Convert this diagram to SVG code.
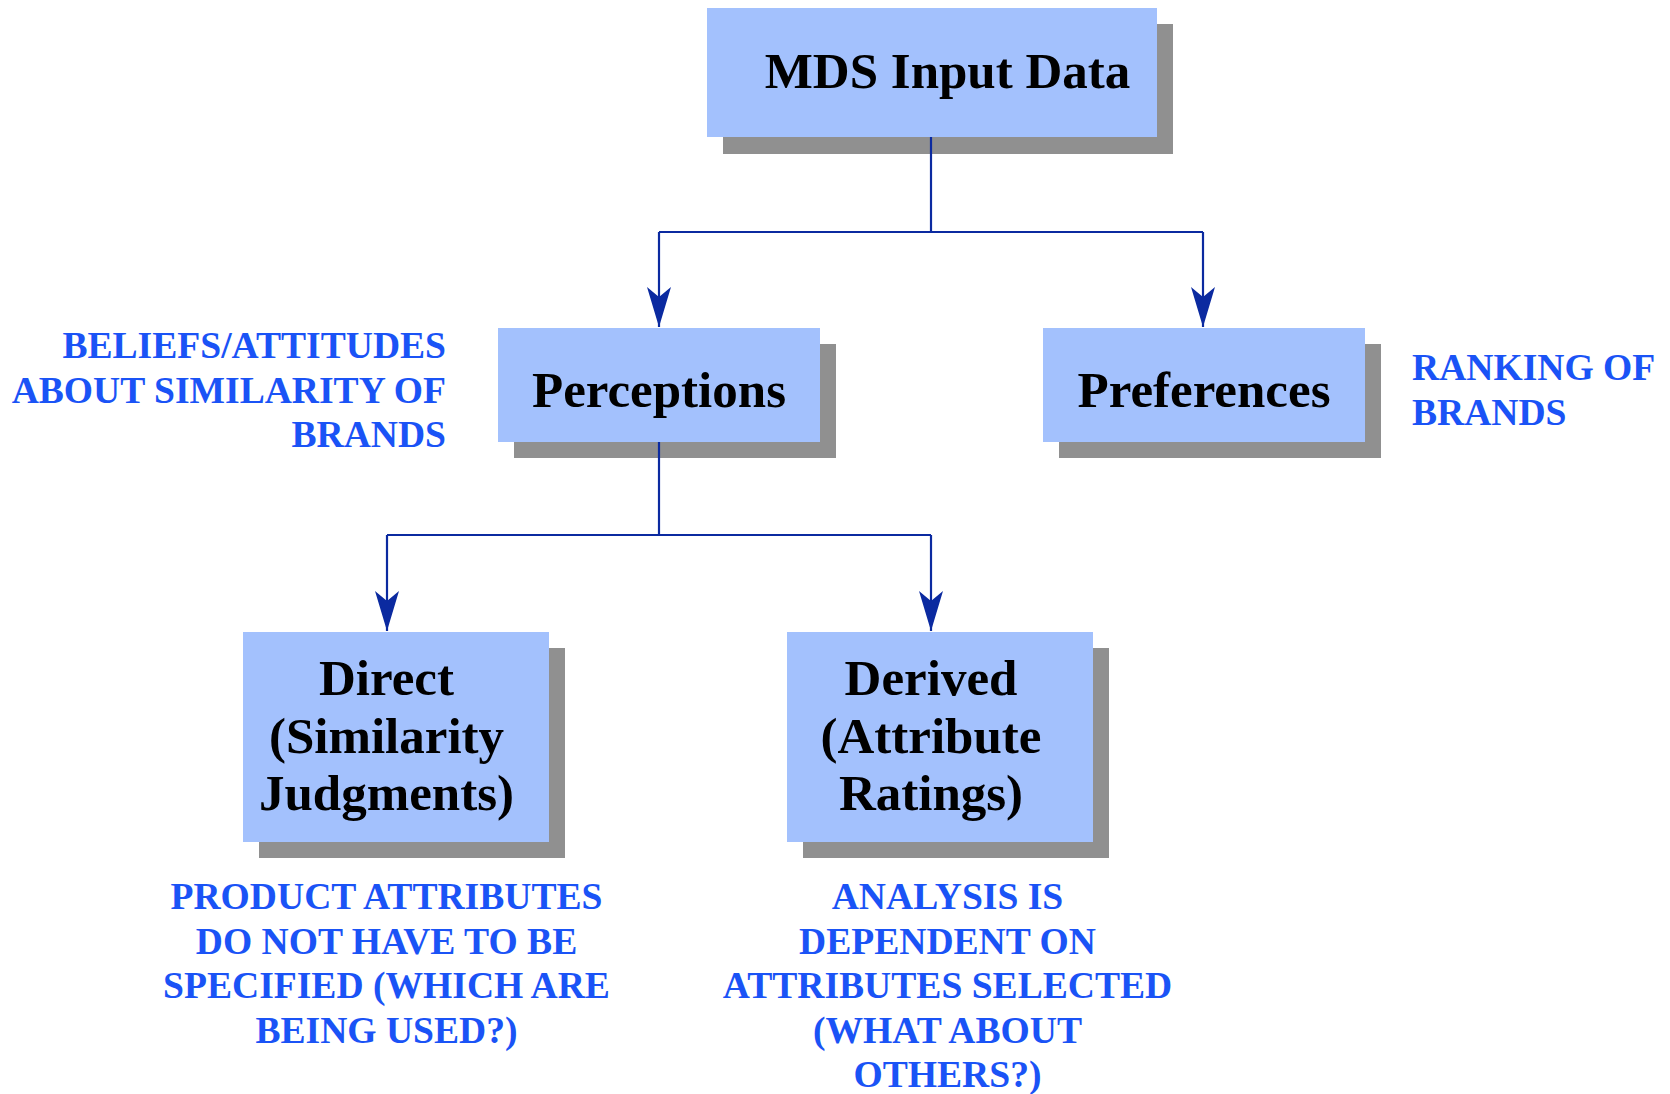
<svg xmlns="http://www.w3.org/2000/svg" width="1670" height="1094" viewBox="0 0 1670 1094">
  <style>
    .box { fill: #a3c1fd; }
    .shadow { fill: #909090; }
    .lbl { font-family: "Liberation Serif", "Times New Roman", serif; font-weight: bold; font-size: 51px; fill: #000; text-anchor: middle; }
    .note { font-family: "Liberation Serif", "Times New Roman", serif; font-weight: bold; font-size: 37.6px; fill: #1a53f6; }
    .conn { fill: none; stroke: #0b2aa0; stroke-width: 2.2; }
  </style>
  <defs>
    <marker id="arrow" viewBox="0 0 40 24" refX="40" refY="12" markerWidth="40" markerHeight="24" markerUnits="userSpaceOnUse" orient="auto">
      <path d="M0,0 L40,12 L0,24 L10,12 Z" fill="#0b2aa0"/>
    </marker>
  </defs>
  <rect width="1670" height="1094" fill="#ffffff"/>

  <g id="node-mds">
    <rect class="shadow" x="723" y="24" width="450" height="130"/>
    <rect class="box" x="707" y="8" width="450" height="129"/>
    <text class="lbl" x="947.5" y="88">MDS Input Data</text>
  </g>

  <g id="node-perceptions">
    <rect class="shadow" x="514" y="344" width="322" height="114"/>
    <rect class="box" x="498" y="328" width="322" height="114"/>
    <text class="lbl" x="659" y="407">Perceptions</text>
  </g>

  <g id="node-preferences">
    <rect class="shadow" x="1059" y="344" width="322" height="114"/>
    <rect class="box" x="1043" y="328" width="322" height="114"/>
    <text class="lbl" x="1204" y="407">Preferences</text>
  </g>

  <g id="node-direct">
    <rect class="shadow" x="259" y="648" width="306" height="210"/>
    <rect class="box" x="243" y="632" width="306" height="210"/>
    <text class="lbl" x="386.5" y="695"><tspan x="386.5">Direct</tspan><tspan x="386.5" dy="57.5">(Similarity</tspan><tspan x="386.5" dy="57.5">Judgments)</tspan></text>
  </g>

  <g id="node-derived">
    <rect class="shadow" x="803" y="648" width="306" height="210"/>
    <rect class="box" x="787" y="632" width="306" height="210"/>
    <text class="lbl" x="931" y="695"><tspan x="931">Derived</tspan><tspan x="931" dy="57.5">(Attribute</tspan><tspan x="931" dy="57.5">Ratings)</tspan></text>
  </g>

  <g id="note-beliefs">
    <text class="note" text-anchor="end" x="446" y="358"><tspan x="446">BELIEFS/ATTITUDES</tspan><tspan x="446" dy="44.7">ABOUT SIMILARITY OF</tspan><tspan x="446" dy="44.7">BRANDS</tspan></text>
  </g>

  <g id="note-ranking">
    <text class="note" x="1412" y="380"><tspan x="1412">RANKING OF</tspan><tspan x="1412" dy="45">BRANDS</tspan></text>
  </g>

  <g id="note-product">
    <text class="note" text-anchor="middle" x="386.5" y="909"><tspan x="386.5">PRODUCT ATTRIBUTES</tspan><tspan x="386.5" dy="44.7">DO NOT HAVE TO BE</tspan><tspan x="386.5" dy="44.7">SPECIFIED (WHICH ARE</tspan><tspan x="386.5" dy="44.7">BEING USED?)</tspan></text>
  </g>

  <g id="note-analysis">
    <text class="note" text-anchor="middle" x="947.5" y="909"><tspan x="947.5">ANALYSIS IS</tspan><tspan x="947.5" dy="44.6">DEPENDENT ON</tspan><tspan x="947.5" dy="44.6">ATTRIBUTES SELECTED</tspan><tspan x="947.5" dy="44.6">(WHAT ABOUT</tspan><tspan x="947.5" dy="44.6">OTHERS?)</tspan></text>
  </g>

  <g id="connectors">
    <path class="conn" d="M931,137 V232"/>
    <path class="conn" d="M659,232 H1203"/>
    <path class="conn" d="M659,232 V327" marker-end="url(#arrow)"/>
    <path class="conn" d="M1203,232 V327" marker-end="url(#arrow)"/>
    <path class="conn" d="M659,442 V535"/>
    <path class="conn" d="M387,535 H931"/>
    <path class="conn" d="M387,535 V631" marker-end="url(#arrow)"/>
    <path class="conn" d="M931,535 V631" marker-end="url(#arrow)"/>
  </g>
</svg>
